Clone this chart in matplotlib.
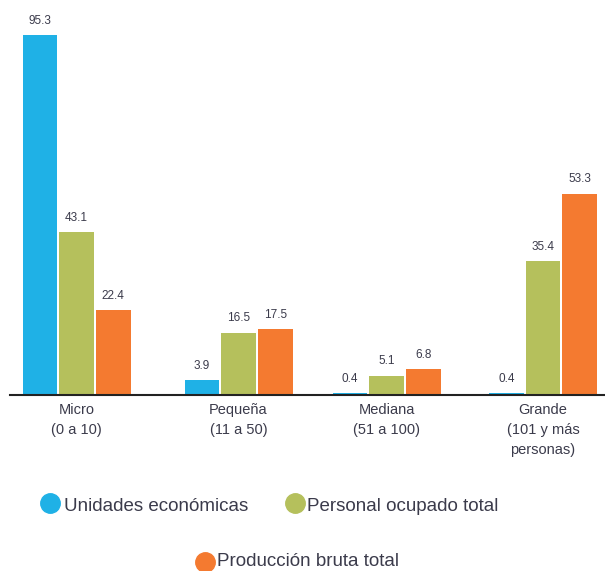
import matplotlib.pyplot as plt
from matplotlib.lines import Line2D
import numpy as np

plt.rcParams['font.family'] = ['Liberation Sans', 'DejaVu Sans']

categorias = ['Micro\n(0 a 10)', 'Pequeña\n(11 a 50)', 'Mediana\n(51 a 100)', 'Grande\n(101 y más\npersonas)']
series = ['Unidades económicas', 'Personal ocupado total', 'Producción bruta total']
unidades = [95.3, 3.9, 0.4, 0.4]
personal = [43.1, 16.5, 5.1, 35.4]
produccion = [22.4, 17.5, 6.8, 53.3]
colores = ['#1fb1e6', '#b5c05c', '#f47a30']
txt = '#3b3b4b'

fig = plt.figure(figsize=(6.05, 5.71), dpi=100)
ax = fig.add_axes([10/605, 1-395/571, 595/605, 395/571])

x = np.array([-0.01, 1.035, 1.99, 3.0])
w = 0.225
off = 0.236
for k, vals in enumerate([unidades, personal, produccion]):
    bars = ax.bar(x + (k-1)*off, vals, w, color=colores[k])
    for b, v in zip(bars, vals):
        ax.annotate(f'{v:.1f}', (b.get_x()+b.get_width()/2, v), xytext=(0, 6),
                    textcoords='offset points', ha='center', va='bottom',
                    fontsize=8.5, color=txt)

ax.set_xlim(-0.44, 3.4)
ax.set_ylim(0, 104.6)
ax.set_xticks(x)
ax.set_xticklabels(categorias, fontsize=10.5, color=txt, linespacing=1.55)
ax.tick_params(axis='x', length=0, pad=6)
ax.set_yticks([])
for s in ['top', 'right', 'left']:
    ax.spines[s].set_visible(False)
ax.spines['bottom'].set_linewidth(1.5)
ax.spines['bottom'].set_color('#222222')

# leyenda manual: (centro circulo x, y, inicio texto x, linea base texto y)
pos = [(50, 503, 64, 511), (295, 503, 307, 511), (205, 562, 217, 566)]
for (px, py, tx, ty), nom, c in zip(pos, series, colores):
    fig.add_artist(Line2D([px/605], [1-py/571], marker='o', markersize=14,
                          color=c, transform=fig.transFigure))
    fig.text(tx/605, 1-ty/571, nom, fontsize=13.5, color=txt, va='baseline', ha='left')

fig.savefig('out.png', dpi=100)
